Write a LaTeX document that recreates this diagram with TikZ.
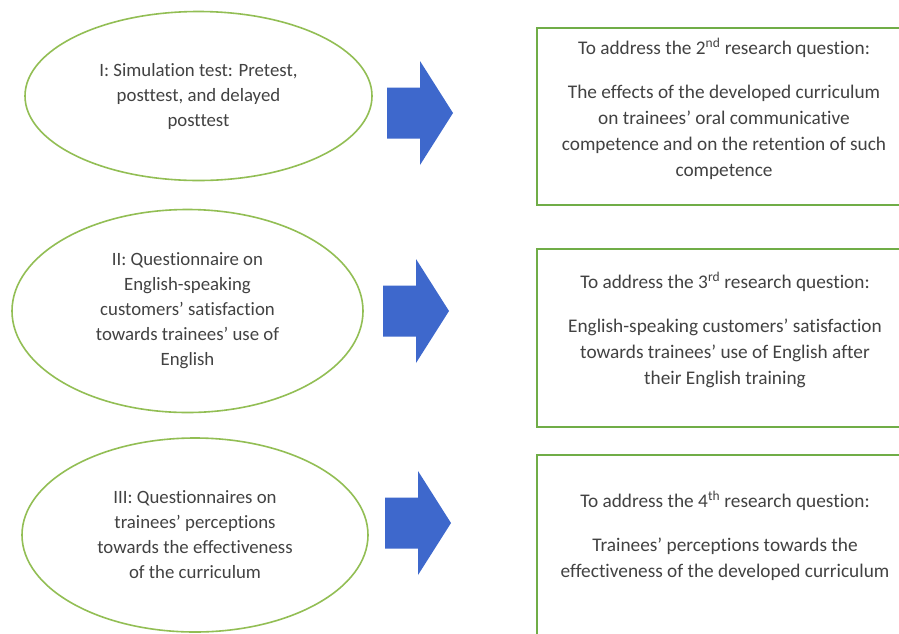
\documentclass[tikz,border=0pt]{standalone}
\usepackage{fontspec}
\setmainfont{Carlito}[Ligatures={TeX,NoCommon}]
\usepackage{xcolor}
\usetikzlibrary{shapes.geometric}

\definecolor{ovalgreen}{RGB}{146,190,84}
\definecolor{boxgreen}{RGB}{112,173,71}
\definecolor{arrowblue}{RGB}{62,104,204}
\definecolor{textgray}{RGB}{66,66,66}

\tikzset{
    oval/.style={ellipse, draw=ovalgreen, line width=1.6pt, inner sep=0pt,
        align=center, text=textgray, font=\fontsize{18.8}{25}\selectfont},
    qbox/.style={rectangle, draw=boxgreen, line width=1.8pt, inner sep=0pt},
    qtext/.style={align=center, text=textgray, font=\fontsize{19.3}{26}\selectfont}
}

\begin{document}
\begin{tikzpicture}[x=1pt,y=-1pt]
    \useasboundingbox (0,0) rectangle (899,633);
    \clip (0,0) rectangle (899,633);
    \fill[white] (0,0) rectangle (899,633);

    % 左侧：三种研究工具
    \node[oval, minimum width=347pt, minimum height=169pt] (e1) at (198.5,96) {I: Simulation test: Pretest,\\posttest, and delayed\\posttest};
    \node[oval, minimum width=351pt, minimum height=203pt] (e2) at (187.5,311) {II: Questionnaire on\\English-speaking\\customers' satisfaction\\towards trainees' use of\\English};
    \node[oval, minimum width=346pt, minimum height=194pt] (e3) at (195,535) {III: Questionnaires on\\trainees' perceptions\\towards the effectiveness\\of the curriculum};

    % 中间：蓝色箭头
    \foreach \x/\y in {387/113, 383/311, 385/523}
        \fill[arrowblue] (\x,\y-25.5) -- ++(33,0) -- ++(0,-26.5) -- ++(33,52)
            -- ++(-33,52) -- ++(0,-26.5) -- ++(-33,0) -- cycle;

    % 右侧：对应的研究问题
    \node[qbox, minimum width=368pt, minimum height=177pt] (q1) at (721,116.5) {};
    \node[qbox, minimum width=368pt, minimum height=178pt] (q2) at (721,338) {};
    \node[qbox, minimum width=368pt, minimum height=185pt] (q3) at (721,547.5) {};

    \node[qtext] (t1) at (724,109) {To address the 2\textsuperscript{nd} research question:\\[18pt]
        The effects of the developed curriculum\\on trainees' oral communicative\\competence and on the retention of such\\competence};
    \node[qtext] (t2) at (725,330) {To address the 3\textsuperscript{rd} research question:\\[18pt]
        English-speaking customers' satisfaction\\towards trainees' use of English after\\their English training};
    \node[qtext] (t3) at (725,536) {To address the 4\textsuperscript{th} research question:\\[18pt]
        Trainees' perceptions towards the\\effectiveness of the developed curriculum};
\end{tikzpicture}
\end{document}
